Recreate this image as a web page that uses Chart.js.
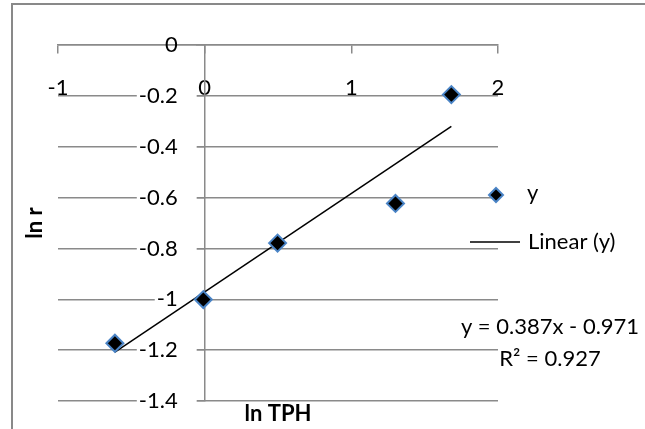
<!DOCTYPE html>
<html>
<head>
<meta charset="utf-8">
<script src="https://cdn.jsdelivr.net/npm/chart.js@4.4.0/dist/chart.umd.min.js"></script>
<style>
  body { margin: 0; background: #fff; }
  #wrap { width: 645px; height: 429px; position: relative; }
</style>
</head>
<body>
<div id="wrap"><canvas id="graph1"></canvas></div>
<script>
// ln TPH vs ln r
var lnTPH = [-0.612, -0.009, 0.497, 1.301, 1.682];
var lnR = [-1.173, -1.001, -0.779, -0.623, -0.195];
// trendline shown on the chart: y = 0.387x - 0.971, R² = 0.927
var slope = 0.387;
var intercept = -0.971;
var xTicks = [-1, 0, 1, 2];
var yTicks = [0, -0.2, -0.4, -0.6, -0.8, -1, -1.2, -1.4];

var FONT = 'Lato';
var GRID = '#8a8a8a';
var BLUE = '#4a84c6';

var points = lnTPH.map(function(x, i) { return {x: x, y: lnR[i]}; });
var xMin = Math.min.apply(null, lnTPH), xMax = Math.max.apply(null, lnTPH);
var trend = [{x: xMin, y: slope * xMin + intercept}, {x: xMax, y: slope * xMax + intercept}];

function fmt(v) { return String(+Number(v).toFixed(1)); }

var extras = {
    id: 'extras',
    beforeDraw: function(chart) {
        var c = chart.ctx;
        c.save();
        c.strokeStyle = '#898989';
        c.lineWidth = 2;
        c.beginPath();
        c.moveTo(12, 429);
        c.lineTo(12, 4);
        c.lineTo(645, 4);
        c.stroke();
        c.restore();
    },
    afterDraw: function(chart) {
        var c = chart.ctx;
        c.save();
        c.fillStyle = '#000';
        c.textBaseline = 'middle';
        // axis titles
        c.font = 'bold 22px ' + FONT;
        c.textAlign = 'center';
        var a = chart.chartArea;
        c.fillText('ln TPH', (a.left + a.right) / 2, 414);
        c.save();
        c.translate(35, (a.top + a.bottom) / 2);
        c.rotate(-Math.PI / 2);
        c.fillText('ln r', 0, 0);
        c.restore();
        // legend
        c.font = '22px ' + FONT;
        c.textAlign = 'left';
        c.beginPath();
        c.moveTo(496, 188); c.lineTo(503, 195); c.lineTo(496, 202); c.lineTo(489, 195);
        c.closePath();
        c.fillStyle = '#000';
        c.fill();
        c.strokeStyle = BLUE;
        c.lineWidth = 2;
        c.stroke();
        c.fillText('y', 527, 193);
        c.strokeStyle = '#000';
        c.lineWidth = 1.5;
        c.beginPath();
        c.moveTo(470, 242); c.lineTo(520, 242);
        c.stroke();
        c.fillText('Linear (y)', 528, 242);
        // equation
        c.textAlign = 'center';
        c.fillText('y = ' + slope + 'x - ' + Math.abs(intercept), 550, 327);
        c.fillText('R\u00b2 = 0.927', 550, 359);
        c.restore();
    }
};

var ctx = document.getElementById('graph1');
var myChart = new Chart(ctx, {
    type: 'scatter',
    data: {
        datasets: [{
            label: 'y',
            data: points,
            backgroundColor: '#000',
            borderColor: BLUE,
            borderWidth: 2,
            pointStyle: 'rectRot',
            pointRadius: 8.5,
            pointHoverRadius: 8.5,
            order: 1
        }, {
            label: 'Linear (y)',
            type: 'line',
            data: trend,
            borderColor: '#000',
            borderWidth: 1.5,
            pointRadius: 0,
            fill: false,
            order: 2
        }]
    },
    options: {
        responsive: true,
        maintainAspectRatio: false,
        animation: false,
        layout: { padding: { left: 58, top: 45, right: 147, bottom: 28 } },
        plugins: {
            legend: { display: false },
            tooltip: { enabled: false }
        },
        scales: {
            x: {
                type: 'linear',
                position: { y: 0 },
                min: -1, max: 2,
                afterBuildTicks: function(s) { s.ticks = xTicks.map(function(v) { return {value: v}; }); },
                grid: { drawOnChartArea: false, drawTicks: true, tickLength: 8, color: GRID, lineWidth: 1.5 },
                border: { display: true, color: GRID, width: 1.5 },
                ticks: { padding: 22, color: '#000', font: { family: FONT, size: 22 }, callback: fmt }
            },
            y: {
                type: 'linear',
                position: { x: 0 },
                min: -1.4, max: 0,
                afterBuildTicks: function(s) { s.ticks = yTicks.map(function(v) { return {value: v}; }); },
                grid: { drawOnChartArea: true, drawTicks: true, tickLength: 8, color: GRID, lineWidth: 1.5 },
                border: { display: true, color: GRID, width: 1.5 },
                ticks: { display: false }
            },
            yl: {
                type: 'linear',
                axis: 'y',
                position: { x: -0.184 },
                min: -1.4, max: 0,
                afterBuildTicks: function(s) { s.ticks = yTicks.map(function(v) { return {value: v}; }); },
                grid: { display: false },
                border: { display: false },
                ticks: {
                    color: '#000',
                    font: { family: FONT, size: 22 },
                    callback: fmt,
                    showLabelBackdrop: true,
                    backdropColor: function(c) { return c.tick && c.tick.value === 0 ? 'rgba(255,255,255,0)' : '#fff'; },
                    backdropPadding: { left: 2, right: 19, top: 0, bottom: 0 }
                }
            }
        }
    },
    plugins: [extras]
});
</script>
</body>
</html>
